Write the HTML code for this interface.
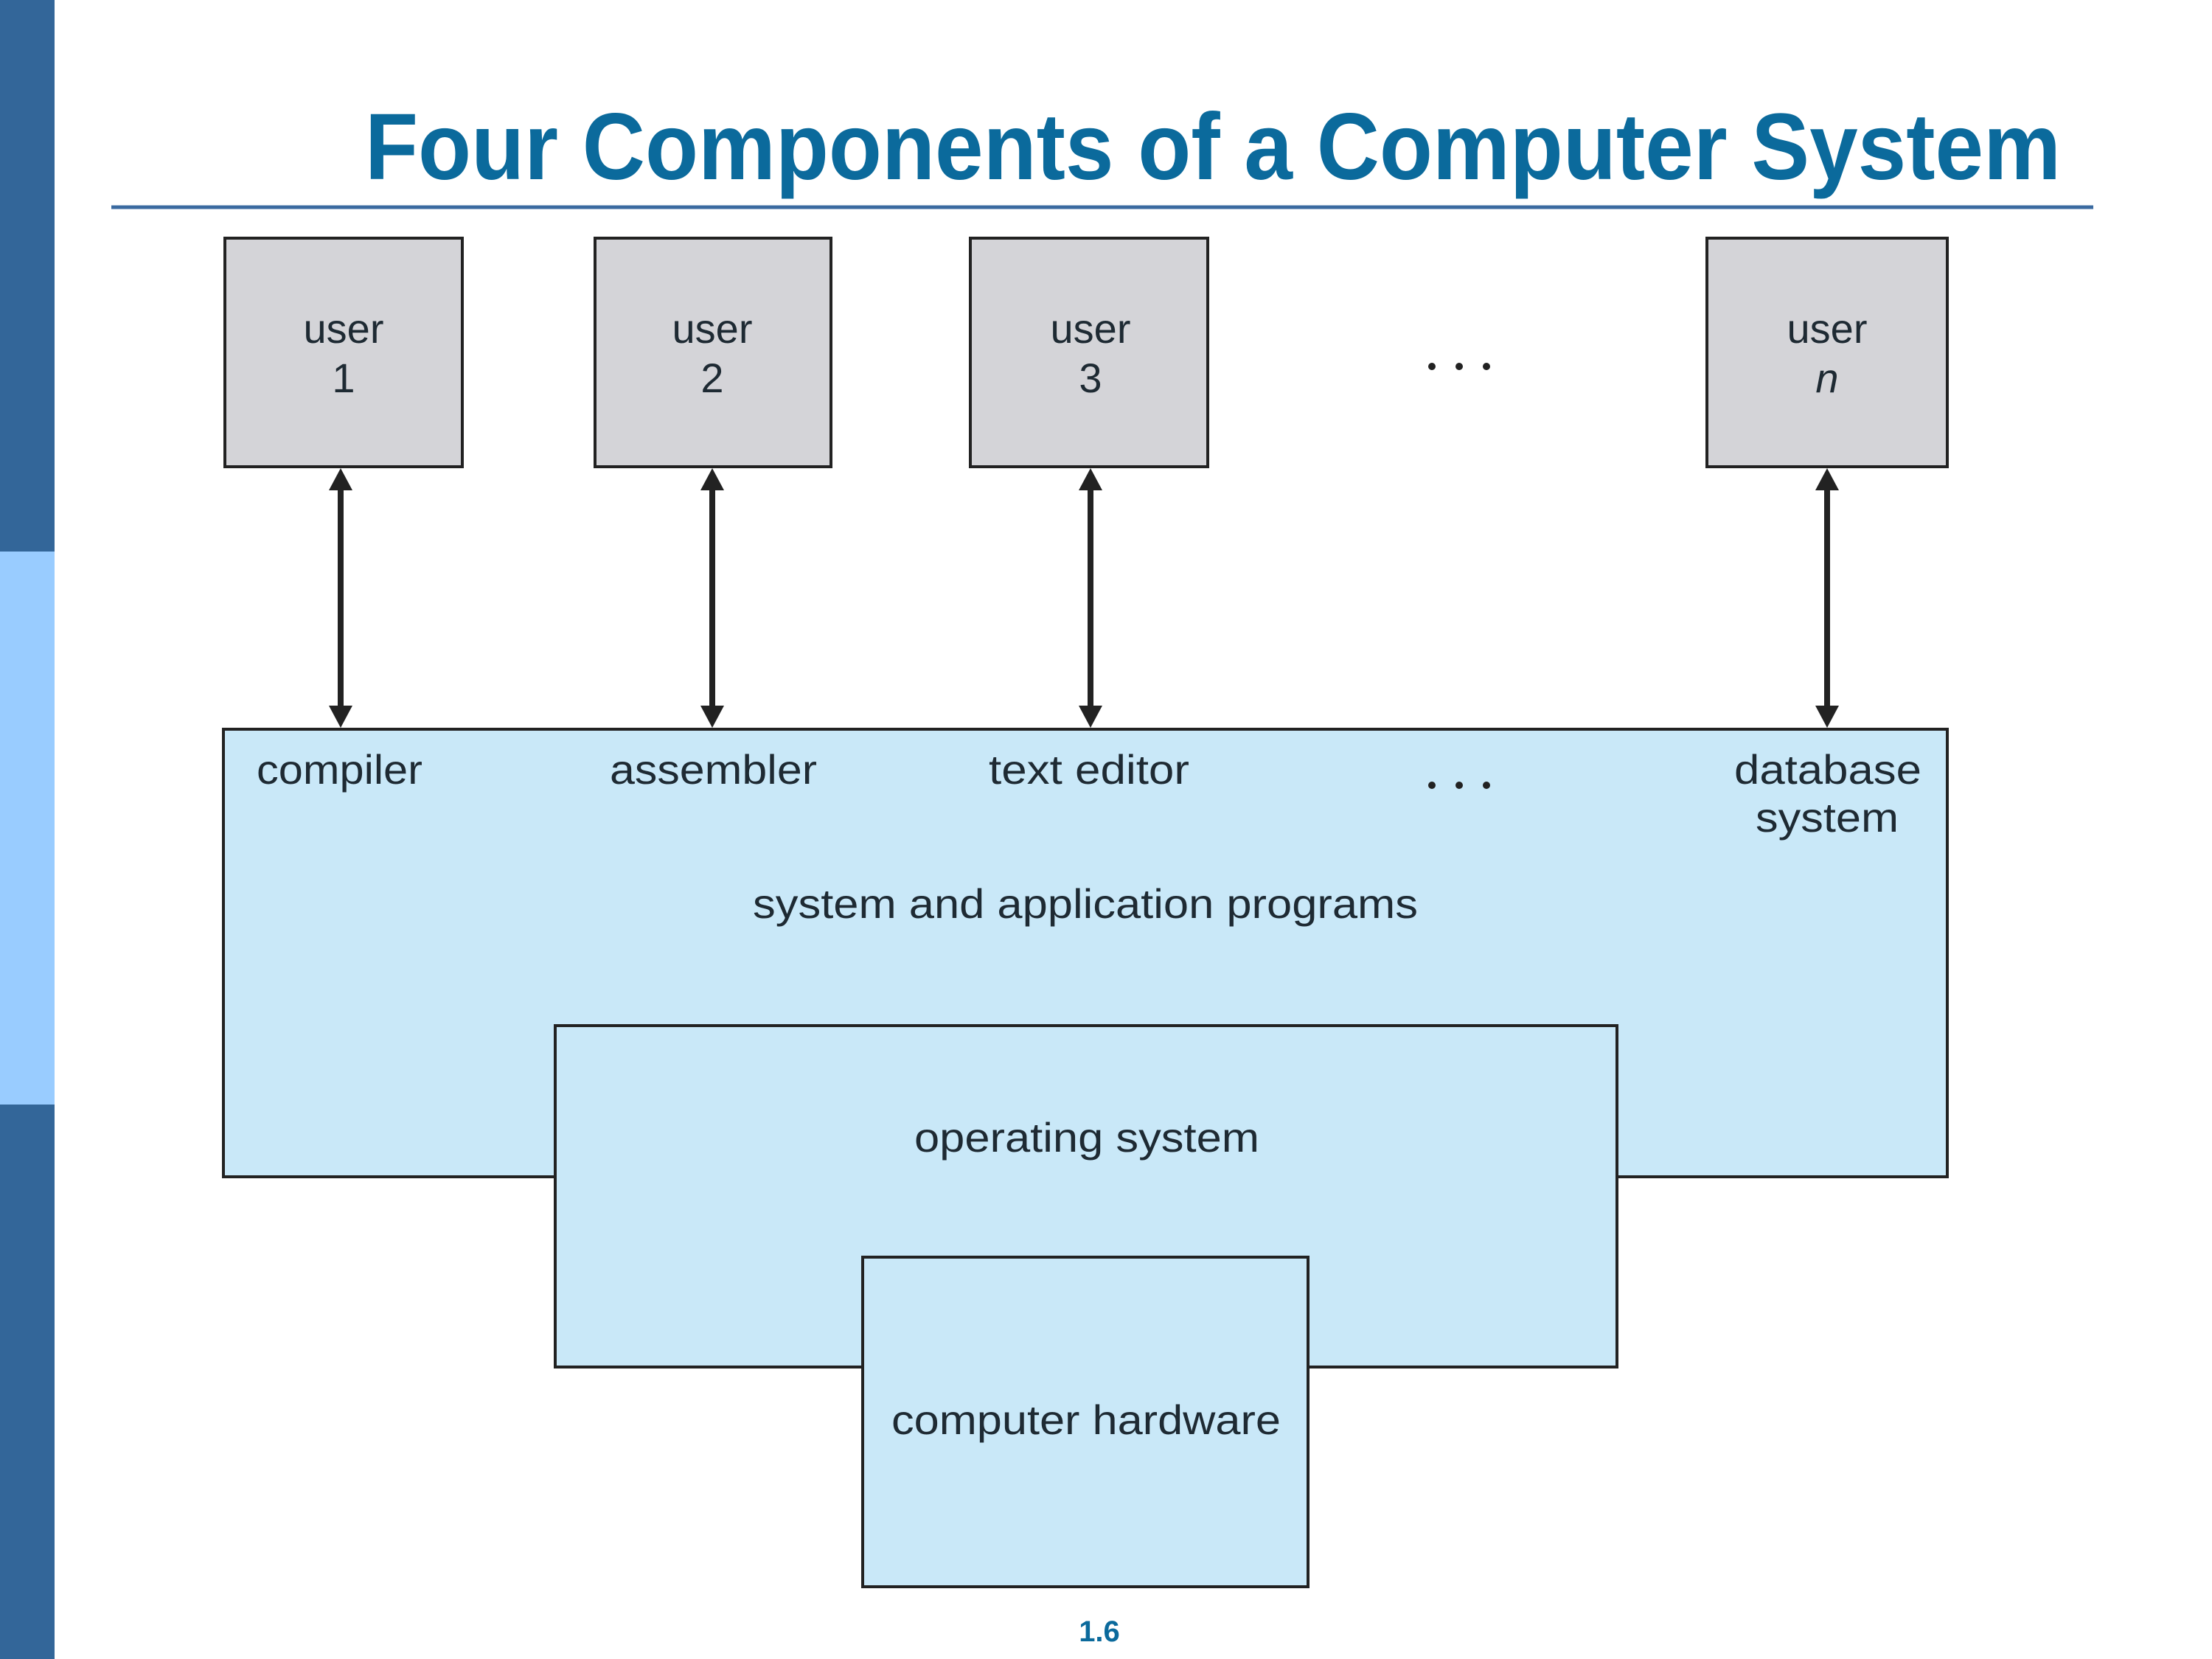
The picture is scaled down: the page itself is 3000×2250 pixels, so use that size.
<!DOCTYPE html>
<html><head><meta charset="utf-8"><style>
html,body{margin:0;padding:0;background:#fff;}
svg{display:block;}
</style></head><body>
<svg width="3000" height="2250" viewBox="0 0 3000 2250" xmlns="http://www.w3.org/2000/svg">
<rect x="0" y="0" width="3000" height="2250" fill="#fff"/>
<rect x="0" y="0" width="74" height="748" fill="#336699"/>
<rect x="0" y="748" width="74" height="750" fill="#99ccff"/>
<rect x="0" y="1498" width="74" height="752" fill="#336699"/>
<text x="495" y="243" font-family="Liberation Sans, sans-serif" font-weight="bold" font-size="128" fill="#0b6a9c" textLength="2300" lengthAdjust="spacingAndGlyphs">Four Components of a Computer System</text>
<line x1="151" y1="281" x2="2839" y2="281" stroke="#3a6aa0" stroke-width="5"/>
<g fill="#d4d4d8" stroke="#222" stroke-width="4">
<rect x="305" y="323" width="322" height="310"/>
<rect x="807" y="323" width="320" height="310"/>
<rect x="1316" y="323" width="322" height="310"/>
<rect x="2315" y="323" width="326" height="310"/>
</g>
<g fill="#c9e8f8" stroke="#222" stroke-width="4">
<rect x="303" y="989" width="2338" height="607"/>
<rect x="753" y="1391" width="1440" height="463"/>
<rect x="1170" y="1705" width="604" height="447"/>
</g>
<rect x="755" y="1393" width="1436" height="200" fill="#c9e8f8"/>
<rect x="1172" y="1707" width="600" height="145" fill="#c9e8f8"/>
<g stroke="#222" stroke-width="8">
<line x1="462" y1="660" x2="462" y2="960"/>
<line x1="966" y1="660" x2="966" y2="960"/>
<line x1="1479" y1="660" x2="1479" y2="960"/>
<line x1="2478" y1="660" x2="2478" y2="960"/>
</g>
<g fill="#222">
<polygon points="462,635 446,665 478,665"/><polygon points="462,987 446,957 478,957"/>
<polygon points="966,635 950,665 982,665"/><polygon points="966,987 950,957 982,957"/>
<polygon points="1479,635 1463,665 1495,665"/><polygon points="1479,987 1463,957 1495,957"/>
<polygon points="2478,635 2462,665 2494,665"/><polygon points="2478,987 2462,957 2494,957"/>
<circle cx="1942" cy="497" r="5"/><circle cx="1979" cy="497" r="5"/><circle cx="2016" cy="497" r="5"/>
<circle cx="1942" cy="1065" r="5"/><circle cx="1979" cy="1065" r="5"/><circle cx="2016" cy="1065" r="5"/>
</g>
<g font-family="Liberation Sans, sans-serif" font-size="56" fill="#1e2a33" text-anchor="middle">
<text x="466" y="465">user</text><text x="466" y="532">1</text>
<text x="966" y="465">user</text><text x="966" y="532">2</text>
<text x="1479" y="465">user</text><text x="1479" y="532">3</text>
<text x="2478" y="465">user</text><text x="2478" y="532" font-style="italic">n</text>
</g>
<g font-family="Liberation Sans, sans-serif" font-size="56" fill="#1e2a33">
<text x="348" y="1063" textLength="225" lengthAdjust="spacingAndGlyphs">compiler</text>
<text x="827" y="1063" textLength="281" lengthAdjust="spacingAndGlyphs">assembler</text>
<text x="1341" y="1063" textLength="272" lengthAdjust="spacingAndGlyphs">text editor</text>
<text x="2352" y="1063" textLength="254" lengthAdjust="spacingAndGlyphs">database</text>
<text x="2381" y="1128" textLength="194" lengthAdjust="spacingAndGlyphs">system</text>
<text x="1021" y="1245" textLength="902" lengthAdjust="spacingAndGlyphs">system and application programs</text>
<text x="1240" y="1562" textLength="468" lengthAdjust="spacingAndGlyphs">operating system</text>
<text x="1209" y="1945" textLength="528" lengthAdjust="spacingAndGlyphs">computer hardware</text>
</g>
<text x="1491" y="2226" font-family="Liberation Sans, sans-serif" font-weight="bold" font-size="40" fill="#0b6a9c" text-anchor="middle">1.6</text>
</svg>
</body></html>
